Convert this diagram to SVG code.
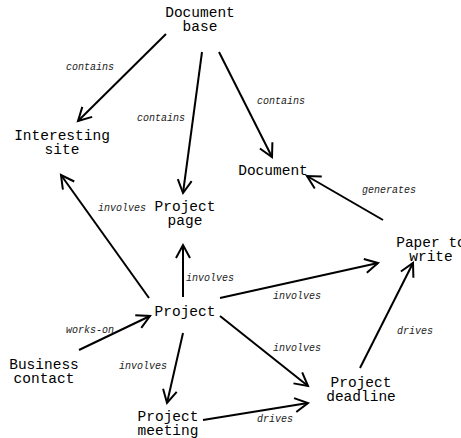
<svg xmlns="http://www.w3.org/2000/svg" width="461" height="438" viewBox="0 0 461 438">
<defs>
<style>
.n{font-family:"Liberation Mono","Courier New",monospace;font-size:14.5px;fill:#000;text-anchor:middle}
.l{font-family:"Liberation Mono","Courier New",monospace;font-size:10px;font-style:italic;fill:#222}
.e{stroke:#000;stroke-width:2;fill:none;marker-end:url(#a)}
</style>
<marker id="a" markerUnits="userSpaceOnUse" markerWidth="20" markerHeight="20" refX="14" refY="8" orient="auto">
<path d="M1,1 L14,8 L1,15" fill="none" stroke="#000" stroke-width="2"/>
</marker>
</defs>
<rect width="461" height="438" fill="#fff"/>
<g id="connectors">
<line class="e" x1="166" y1="34" x2="78" y2="121"/>
<line class="e" x1="202" y1="52" x2="183" y2="193"/>
<line class="e" x1="219" y1="52" x2="272" y2="157"/>
<line class="e" x1="383" y1="220" x2="307" y2="176"/>
<line class="e" x1="149" y1="298" x2="61" y2="175"/>
<line class="e" x1="183" y1="297" x2="183" y2="245"/>
<line class="e" x1="220" y1="298" x2="378" y2="263"/>
<line class="e" x1="220" y1="316" x2="308" y2="386"/>
<line class="e" x1="79" y1="350" x2="150" y2="316"/>
<line class="e" x1="183" y1="333" x2="167" y2="403"/>
<line class="e" x1="203" y1="420" x2="308" y2="403"/>
<line class="e" x1="360" y1="368" x2="413" y2="263"/>
</g>
<g id="edge-labels">
<text class="l" x="66" y="70">contains</text>
<text class="l" x="137" y="121">contains</text>
<text class="l" x="257" y="104">contains</text>
<text class="l" x="362" y="193">generates</text>
<text class="l" x="98" y="211">involves</text>
<text class="l" x="186" y="281">involves</text>
<text class="l" x="273" y="299">involves</text>
<text class="l" x="273" y="351">involves</text>
<text class="l" x="66" y="333">works-on</text>
<text class="l" x="119" y="369">involves</text>
<text class="l" x="257" y="422">drives</text>
<text class="l" x="397" y="334">drives</text>
</g>
<g id="document-base"><text class="n" x="200" y="17">Document</text><text class="n" x="200" y="31">base</text></g>
<g id="interesting-site"><text class="n" x="62" y="140">Interesting</text><text class="n" x="62" y="154">site</text></g>
<g id="project-page"><text class="n" x="185" y="211">Project</text><text class="n" x="185" y="225">page</text></g>
<g id="document"><text class="n" x="273" y="175">Document</text></g>
<g id="paper-to-write"><text class="n" x="431" y="247">Paper to</text><text class="n" x="431" y="261">write</text></g>
<g id="project"><text class="n" x="185" y="316">Project</text></g>
<g id="business-contact"><text class="n" x="44" y="369">Business</text><text class="n" x="44" y="383">contact</text></g>
<g id="project-meeting"><text class="n" x="168" y="421">Project</text><text class="n" x="168" y="435">meeting</text></g>
<g id="project-deadline"><text class="n" x="361" y="387">Project</text><text class="n" x="361" y="401">deadline</text></g>
</svg>
